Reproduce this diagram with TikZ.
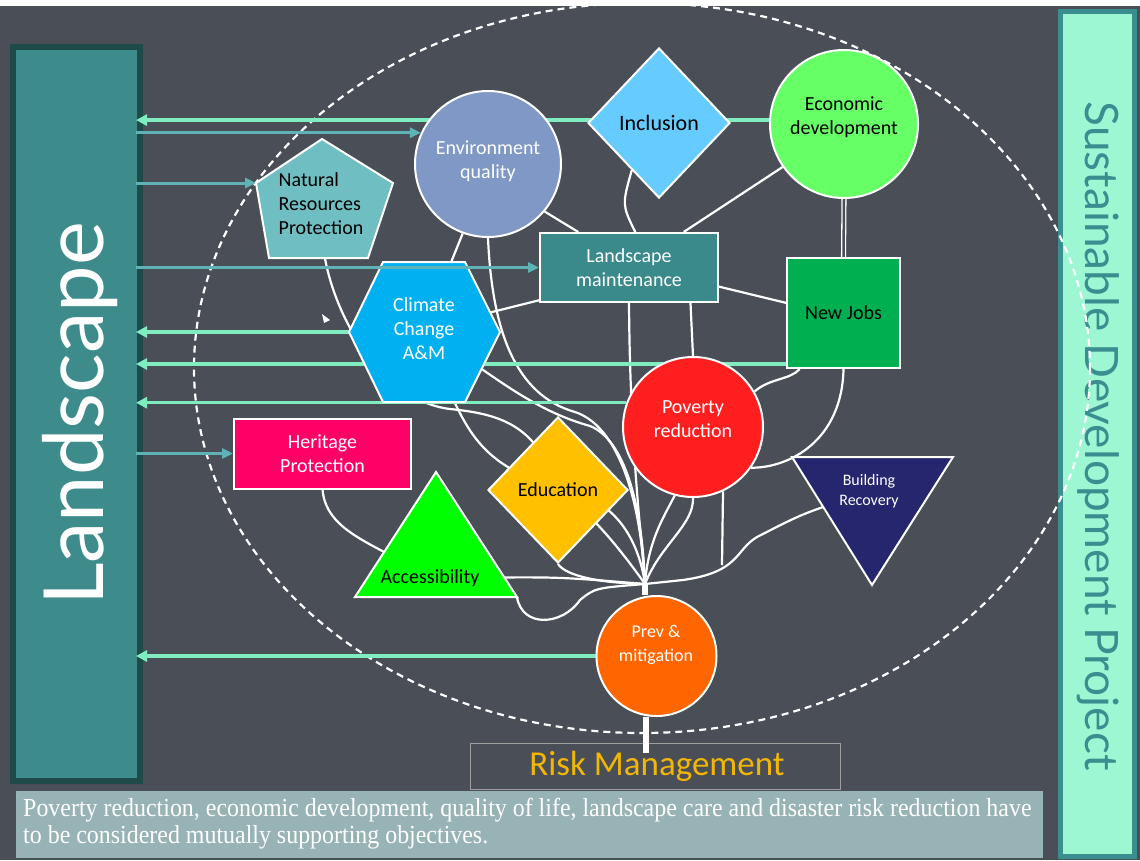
\documentclass[tikz,border=0pt]{standalone}
\usepackage{fontspec}
\setmainfont{Carlito}
\newfontfamily\titlefont{Lato}
\newfontfamily\notefont[FakeStretch=0.92]{Liberation Serif}
\newfontfamily\riskfont{Carlito}
\usetikzlibrary{arrows.meta,shapes.geometric,calc}

\definecolor{Chalk}{HTML}{4A4E56}
\definecolor{LandDark}{HTML}{1E4B49}
\definecolor{LandTeal}{HTML}{3D8B8B}
\definecolor{SdpMint}{HTML}{9DF7D3}
\definecolor{SdpTeal}{HTML}{3A8E90}
\definecolor{MintLine}{HTML}{80EDC0}
\definecolor{TealLine}{HTML}{5FB3B7}
\definecolor{EnvBlue}{HTML}{7F98C6}
\definecolor{InclBlue}{HTML}{66CCFF}
\definecolor{EconGreen}{HTML}{66FF66}
\definecolor{NrpTeal}{HTML}{6FBEC1}
\definecolor{LmTeal}{HTML}{3A898B}
\definecolor{ClimBlue}{HTML}{00B0F0}
\definecolor{JobsGreen}{HTML}{00B050}
\definecolor{PovRed}{HTML}{FF1F1F}
\definecolor{HerPink}{HTML}{FF0066}
\definecolor{EduGold}{HTML}{FFC000}
\definecolor{BldNavy}{HTML}{26266F}
\definecolor{AccGreen}{HTML}{00FF00}
\definecolor{PrevOrange}{HTML}{FF6600}
\definecolor{RiskGold}{HTML}{F2B705}
\definecolor{RiskLine}{HTML}{A0A0A0}
\definecolor{NoteGrey}{HTML}{98B3B6}

\pgfdeclarelayer{back}
\pgfdeclarelayer{branches}
\pgfsetlayers{back,branches,main}

\tikzset{
  shapebox/.style={draw=white, line width=2pt},
  txt/.style={font=\fontsize{20}{24}\selectfont, align=center, inner sep=0pt},
  wtxt/.style={txt, text=white},
  btxt/.style={txt, text=black},
  bubble/.style={circle, shapebox, inner sep=0pt},
  gem/.style={diamond, shapebox, inner sep=0pt},
  card/.style={rectangle, shapebox, txt},
  branch/.style={draw=white, line width=2.2pt},
  trunk/.style={draw=white, line width=6pt},
  mintarrow/.style={draw=MintLine, line width=3.5pt, -{Triangle[length=11pt,width=11pt]}},
  tealarrow/.style={draw=TealLine, line width=3pt, -{Triangle[length=11pt,width=10pt]}},
}

\begin{document}
\begin{tikzpicture}[x=1pt, y=-1pt]
\useasboundingbox (0,0) rectangle (1140,860);

% chalkboard, side panels, frame
\begin{pgfonlayer}{back}
  \fill[white] (0,0) rectangle (1140,6);
  \fill[Chalk] (0,6) rectangle (1140,860);
  \node[draw=LandDark, fill=LandTeal, line width=6pt, inner sep=0pt,
        minimum width=127pt, minimum height=734pt] (land) at (76.5,414) {};
  \node[rotate=90, text=white, inner sep=0pt,
        font=\titlefont\fontsize{83}{83}\selectfont] (landtitle) at (80,414) {Landscape};
  \node[draw=SdpTeal, fill=SdpMint, line width=5pt, inner sep=0pt,
        minimum width=74pt, minimum height=845pt] (sdp) at (1097.5,434) {};
  \node[rotate=-90, text=SdpTeal, inner sep=0pt,
        font=\titlefont\fontsize{46}{46}\selectfont] (sdptitle) at (1098,436) {Sustainable Development Project};
  \draw[white, line width=2.2pt, dash pattern=on 7pt off 5pt] (642,368) ellipse [x radius=448, y radius=365];
  \node[draw=RiskLine, line width=1pt, inner sep=0pt,
        minimum width=370pt, minimum height=46pt] (risk) at (655,766) {};
  \node[text=RiskGold, inner sep=0pt,
        font=\riskfont\fontsize{35}{35}\selectfont] (risktitle) at (657,766) {Risk Management};
  \node[fill=NoteGrey, inner sep=0pt, minimum width=1027pt, minimum height=67pt] (notebox) at (529.5,824.5) {};
  \node[anchor=west, text=white, align=left, inner sep=0pt,
        font=\notefont\fontsize{26}{27}\selectfont] (note) at (23,824) {Poverty reduction, economic development, quality of life, landscape care and disaster risk reduction have\\to be considered mutually supporting objectives.};
\end{pgfonlayer}

\coordinate (J) at (645,584);
\coordinate (root) at (646,753);
\coordinate (povleaf) at (722,565);
\coordinate (landedge) at (136,0);

% objectives
\node[bubble, fill=EnvBlue, minimum size=146pt] (env) at (488,164) {};
\node[wtxt] (envtext) at (488,161) {Environment\\quality};
\node[gem, fill=InclBlue, minimum width=142pt, minimum height=150pt] (incl) at (659,123) {};
\node[btxt, font=\fontsize{22}{26}\selectfont] (incltext) at (659,123) {Inclusion};
\node[bubble, fill=EconGreen, minimum size=148pt] (econ) at (844,124) {};
\node[btxt] (econtext) at (844,117) {Economic\\development};
\filldraw[shapebox, fill=NrpTeal] (322,139) -- (393,183) -- (368,258) -- (269,258) -- (256,183) coordinate (nrpW) -- cycle;
\node[btxt, align=left] (nrptext) at (321,204) {Natural\\Resources\\Protection};
\node[card, fill=LmTeal, text=white, minimum width=178pt, minimum height=69pt] (lm) at (629,267.5) {Landscape\\maintenance};
\filldraw[shapebox, fill=ClimBlue] (383,262) -- (465,262) -- (500,332) -- (465,402) -- (383,402) -- (349,332) coordinate (ccW) -- cycle;
\node[wtxt] (cctext) at (424,329) {Climate\\Change\\A\&M};
\node[card, fill=JobsGreen, minimum width=113pt, minimum height=110pt] (jobs) at (843.5,313) {New Jobs};
\node[bubble, fill=PovRed, minimum size=140pt] (pov) at (693,427) {};
\node[wtxt] (povtext) at (693,419) {Poverty\\reduction};
\node[card, fill=HerPink, text=white, minimum width=177pt, minimum height=70pt] (her) at (322.5,453.5) {Heritage\\Protection};
\node[gem, fill=EduGold, minimum width=140pt, minimum height=146pt] (edu) at (558,490) {};
\node[btxt] (edutext) at (558,490) {Education};
\filldraw[shapebox, fill=BldNavy] (792,457) -- (953,457) -- (872,585) -- cycle;
\node[wtxt, font=\fontsize{16}{20}\selectfont] (bdrtext) at (869,491) {Building\\Recovery};
\filldraw[shapebox, fill=AccGreen] (436,472) -- (517,597) coordinate (accE) -- (355,597) -- cycle;
\node[btxt] (acctext) at (430,578) {Accessibility};
\node[bubble, fill=PrevOrange, minimum size=120pt] (prev) at (656.5,656) {};
\node[wtxt, font=\fontsize{18}{24}\selectfont] (prevtext) at (656,645) {Prev \&\\mitigation};
\coordinate (jobsfoot) at ([yshift=5pt]jobs.south west);
\fill[white] (322,314) -- (330,320) -- (324,323) -- cycle;

% the tree
\begin{pgfonlayer}{branches}
  \draw[branch] (env.270) .. controls (492,330) and (515,395) .. (575,412)
                          .. controls (615,425) and (640,490) .. (J);
  \draw[branch] (cctext) .. controls (505,385) and (540,412) .. (590,426)
                         .. controls (625,440) and (642,505) .. (J);
  \draw[branch] (env.250) -- (cctext);
  \draw[branch] (env.320) -- (lm.145);
  \draw[branch] (cctext) -- (lm.200);
  \draw[branch] (incl.240) .. controls (622,205) .. (lm.80);
  \draw[branch] (econ.215) -- (lm.33);
  \draw[white, line width=1.3pt, double=Chalk, double distance=2.5pt] (econ.south) -- (jobs.north);
  \draw[branch] (lm.-12) -- (jobs.170);
  \draw[branch] (lm.south) .. controls (630,450) and (642,540) .. (J);
  \draw[branch] (lm.-30) .. controls (692,330) .. (pov.north);
  \draw[branch] (jobs.232) .. controls (790,380) and (770,378) .. (pov.30);
  \draw[branch] (jobs.south) .. controls (842,440) and (790,468) .. (pov.-35);
  \draw[branch] (bdrtext) .. controls (800,515) .. (757,537)
                          .. controls (735,550) and (740,572) .. (683,580) -- (J);
  \draw[branch] (pov.-65) -- (povleaf);
  \draw[branch] (pov.-90) .. controls (694,525) and (660,545) .. (J);
  \draw[branch] (pov.255) .. controls (665,515) and (648,540) .. (J);
  \draw[branch] (edutext) .. controls (612,505) and (638,535) .. (J);
  \draw[branch] (edutext) .. controls (598,520) and (628,560) .. (J);
  \draw[branch] (edu.south) .. controls (566,576) and (600,583) .. (J);
  \draw[branch] (acctext) .. controls (560,577) .. (J);
  \draw[branch] (accE) .. controls (522,628) and (562,626) .. (580,600)
                       .. controls (595,588) .. (J);
  \draw[branch] (her.south) .. controls (326,530) and (370,542) .. (acctext);
  \draw[branch] (nrptext) .. controls (325,300) and (375,400) .. (450,409)
                          .. controls (500,414) and (535,425) .. (edutext);
  \draw[branch] (cctext) .. controls (465,430) and (478,458) .. (edutext);
  \draw[trunk] (J) -- (J |- prev.north);
  \draw[trunk] (root |- prev.south) -- (root);
  % links back to the landscape
  \draw[mintarrow] (econ.177) -- (landedge |- econ.177);
  \draw[mintarrow] (ccW) -- (landedge |- ccW);
  \draw[mintarrow] (jobsfoot) -- (landedge |- jobsfoot);
  \draw[mintarrow] (pov.160) -- (landedge |- pov.160);
  \draw[mintarrow] (prev.west) -- (landedge |- prev.west);
\end{pgfonlayer}

% landscape feeds
\draw[tealarrow] (landedge |- env.155) -- (env.155);
\draw[tealarrow] (landedge |- nrpW) -- (nrpW);
\draw[tealarrow] (landedge |- lm.west) -- (lm.west);
\draw[tealarrow] (landedge |- her.west) -- (her.west);
\end{tikzpicture}
\end{document}
